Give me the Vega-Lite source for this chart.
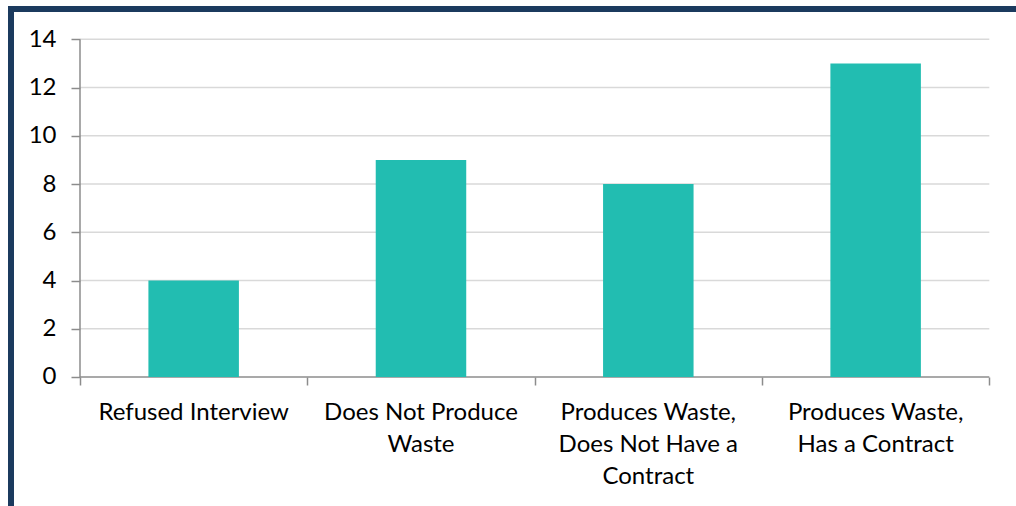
{
  "$schema": "https://vega.github.io/schema/vega-lite/v6.json",
  "width": 1015,
  "height": 507,
  "autosize": {"type": "none"},
  "padding": {"left": 11, "top": 9, "right": -10, "bottom": -10},
  "background": "white",
  "config": {
    "view": {"stroke": "#1b3a5e", "strokeWidth": 6, "fill": "white"},
    "font": "Lato"
  },
  "layer": [
    {
      "layer": [
        {
          "data": {"values": [{"tick": 2}, {"tick": 4}, {"tick": 6}, {"tick": 8}, {"tick": 10}, {"tick": 12}, {"tick": 14}]},
          "mark": {"type": "rule", "color": "#d9d9d9", "strokeWidth": 1.5},
          "encoding": {
            "x": {"datum": 0, "type": "quantitative",
              "scale": {"domain": [-0.3035, 4.1614], "nice": false, "zero": false},
              "axis": {"orient": "bottom", "offset": -139, "values": [0, 1, 2, 3, 4], "labels": false, "domain": false, "grid": false, "ticks": true, "tickSize": 8, "tickColor": "#8c8c8c", "tickWidth": 1.5, "title": null}},
            "x2": {"datum": 4},
            "y": {"field": "tick", "type": "quantitative",
              "scale": {"domain": [-5.763, 15.256], "nice": false, "zero": false},
              "axis": {"values": [0, 2, 4, 6, 8, 10, 12, 14], "offset": -69, "domain": false, "grid": false, "ticks": true, "tickSize": 9, "tickColor": "#8c8c8c", "tickWidth": 1.5, "labelFontSize": 24, "labelColor": "#000000", "labelPadding": 15, "title": null}}
          }
        },
        {
          "data": {"values": [{"line": "y axis"}]},
          "mark": {"type": "rule", "color": "#8c8c8c", "strokeWidth": 1.5},
          "encoding": {
            "x": {"datum": 0, "type": "quantitative"},
            "y": {"datum": 0, "type": "quantitative"},
            "y2": {"datum": 14}
          }
        },
        {
          "data": {"values": [{"line": "x axis"}]},
          "mark": {"type": "rule", "color": "#8c8c8c", "strokeWidth": 1.5},
          "encoding": {
            "x": {"datum": 0, "type": "quantitative"},
            "x2": {"datum": 4},
            "y": {"datum": 0, "type": "quantitative"}
          }
        }
      ]
    },
    {
      "data": {"values": [
        {"category": "Refused Interview", "count": 4},
        {"category": "Does Not Produce Waste", "count": 9},
        {"category": "Produces Waste, Does Not Have a Contract", "count": 8},
        {"category": "Produces Waste, Has a Contract", "count": 13}
      ]},
      "mark": {"type": "bar", "color": "#22bdb1"},
      "encoding": {
        "x": {"field": "category", "type": "nominal", "sort": null,
          "scale": {"paddingInner": 0.6019, "paddingOuter": 0.5334, "align": 0.5666},
          "axis": {"orient": "bottom", "offset": -139, "ticks": false, "domain": false, "grid": false, "labelAngle": 0, "labelFontSize": 24, "labelColor": "#000000", "labelPadding": 23, "labelLineHeight": 32, "labelLimit": 400, "title": null,
            "labelExpr": "datum.value == 'Does Not Produce Waste' ? ['Does Not Produce', 'Waste'] : datum.value == 'Produces Waste, Does Not Have a Contract' ? ['Produces Waste,', 'Does Not Have a', 'Contract'] : datum.value == 'Produces Waste, Has a Contract' ? ['Produces Waste,', 'Has a Contract'] : datum.label"}},
        "y": {"field": "count", "type": "quantitative"},
        "y2": {"datum": 0}
      }
    }
  ],
  "resolve": {"scale": {"x": "independent"}, "axis": {"x": "independent"}}
}
